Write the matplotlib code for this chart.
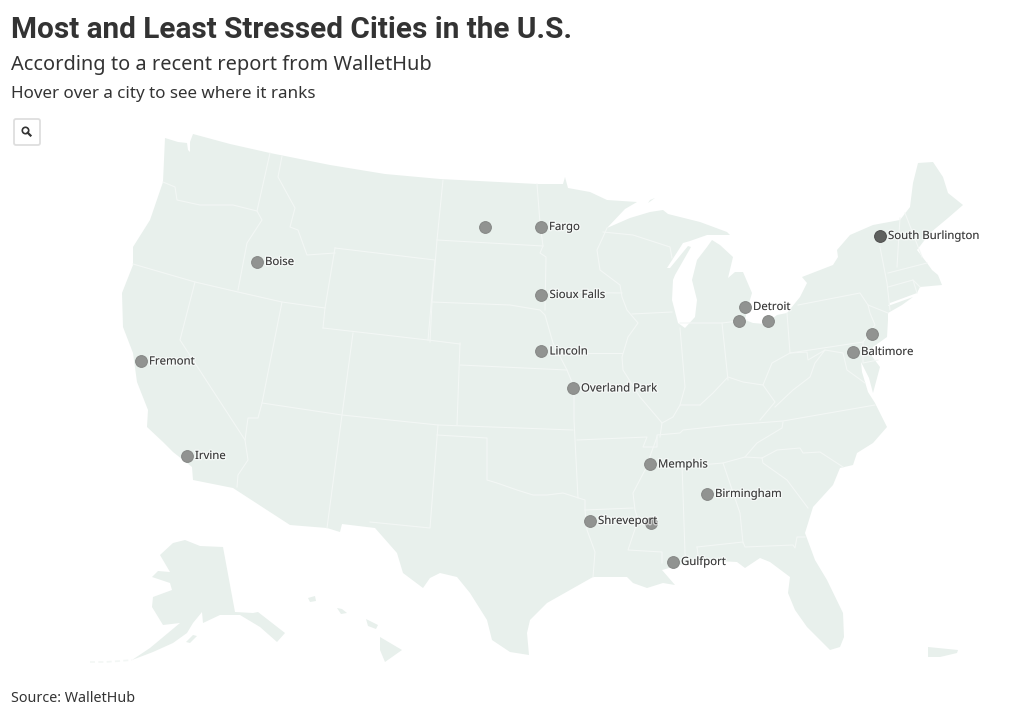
import matplotlib
matplotlib.use("Agg")
import matplotlib.pyplot as plt
from matplotlib.patches import FancyBboxPatch, Circle
import matplotlib.patheffects as pe

FAMILY = ["Noto Sans", "DejaVu Sans"]
plt.rcParams["font.family"] = FAMILY

TITLE = "Most and Least Stressed Cities in the U.S."
SUBTITLE = "According to a recent report from WalletHub"
NOTE = "Hover over a city to see where it ranks"
SOURCE = "Source: WalletHub"

# Cities in map coordinates
city_names = ["", "Fargo", "Sioux Falls", "Lincoln", "Overland Park", "Boise", "Fremont",
              "Irvine", "South Burlington", "Detroit", "", "", "", "Baltimore",
              "Memphis", "Birmingham", "", "Shreveport", "Gulfport"]
city_x = [484.7, 540.7, 541.2, 541.2, 572.7, 256.7, 140.7, 186.7, 879.7, 744.7, 738.7, 767.7, 871.7, 852.7, 649.7, 706.7, 651.2, 589.7, 672.7]
city_y = [226.5, 226.5, 294.5, 351, 388, 261.5, 361, 455.5, 235.5, 306.5, 321, 320.5, 333.5, 351.5, 464, 493.5, 523, 520.5, 561.5]
city_shade = [0.5] * 8 + [0.95] + [0.5] * 10

# Land outlines
lower48 = [(165,138),(178,142),(187,143),(188,150),(190,152),(190,142),(193,134),(230,144),(270,153),(330,165),(385,174),(440,179),
 (537,184),(563,184),(565,177),(568,188),(590,192),(607,200),(637,202),(625,209),(607,228),(630,218),(650,212),(663,210),
 (668,214),(700,222),(727,232),(730,235),(707,235),(690,241),(683,243),(667,268),(670,268),(688,246),(691,247),(675,275),
 (673,280),(672,300),(678,323),(685,328),
 (695,317),(697,300),(692,280),(697,260),(707,247),(712,240),(720,245),(733,257),(728,278),(735,272),(743,272),(752,293),
 (747,310),(745,320),(753,323),(765,324),(777,315),(787,313),(800,297),(807,283),(802,277),(833,265),(838,257),(837,250),
 (850,235),(873,225),(900,220),(910,207),(913,183),(918,163),(933,162),(943,177),(948,193),(963,205),(948,218),(930,233),
 (917,250),(927,263),(932,270),(938,275),(942,285),(920,287),(917,293),(890,303),(888,306),(913,297),(902,305),(888,313),(888,320),(887,337),(873,347),(871,355),
 (880,367),(873,393),(869,378),(861,362),(862,372),(868,392),(875,403),(887,427),(873,443),(857,453),(853,465),(840,468),(833,485),
 (813,507),(805,533),(815,560),(827,580),(843,613),(844,637),(840,647),(830,650),(807,627),(795,610),(788,593),(790,577),
 (770,562),(760,558),(745,568),(737,562),(700,560),(680,565),(662,570),(675,585),(663,583),(647,588),(633,583),(627,577),
 (593,577),(570,590),(547,603),(530,620),(527,633),(529,655),(510,652),(492,640),(487,620),(470,593),(457,577),(440,573),
 (430,578),(423,588),(403,573),(397,553),(375,528),(342,524),(340,532),(327,528),(290,525),(233,488),(193,480),(192,467),
 (173,452),(163,442),(147,427),(148,410),(137,382),(133,353),(123,327),(122,293),(133,265),(133,247),(150,220),(163,182)]
alaska = [(185,540),(200,546),(223,547),(235,612),(253,613),(258,612),(285,633),(277,642),(260,627),(240,615),(220,615),
 (203,623),(202,612),(193,623),(187,633),(173,643),(153,652),(132,660),(150,648),(180,623),(163,625),(152,607),(153,597),
 (172,590),(170,583),(152,577),(158,571),(170,572),(160,555),(173,543)]
hawaii_big = [(380,637),(402,650),(385,662),(380,650)]
maui = [(366,619),(378,625),(376,629),(368,626)]
oahu = [(337,608),(342,609),(347,613),(341,614)]
kauai = [(308,598),(315,596),(316,601),(310,602)]
puerto_rico = [(928,647),(958,650),(957,653),(940,657),(928,657)]
kodiak = [(193,635),(197,636),(190,643),(186,642)]
isle = [(650,200),(655,198),(648,203)]
land = [lower48, alaska, hawaii_big, maui, oahu, kauai, puerto_rico, kodiak, isle]

# State borders
borders = [
 [(163,182),(175,187),(177,200),(200,205),(233,205),(257,211)],
 [(270,153),(257,211),(262,220),(247,243),(238,290)],
 [(282,156),(278,177),(295,208),(290,227),(298,230),(307,255),(335,253)],
 [(133,264),(195,282),(238,292),(282,302),(325,308)],
 [(335,248),(325,308),(323,328)],
 [(335,248),(435,260),(428,340)],
 [(323,328),(428,340),(460,344)],
 [(195,282),(180,340),(245,440),(248,460),(238,475),(237,487)],
 [(282,302),(262,403),(258,418),(248,418),(245,440)],
 [(353,333),(342,415),(327,528)],
 [(262,403),(342,415),(438,425),(573,430)],
 [(438,425),(430,528),(370,522)],
 [(437,435),(487,438),(487,480),(497,483),(517,490),(533,495),(547,495),(563,493),(585,500),(585,510),(587,530),(595,552),(593,577)],
 [(574,387),(574,420),(578,498)],
 [(577,440),(647,437),(643,447),(657,447),(657,435),(680,433),(683,430),(730,425),(783,421),(875,405)],
 [(585,510),(633,508)],
 [(657,437),(645,470),(633,493),(635,510),(638,520),(628,550),(662,552),(662,563)],
 [(645,466),(700,465),(723,463),(745,457),(762,458)],
 [(783,422),(782,428),(757,443),(745,457)],
 [(762,458),(777,450),(800,448),(803,453),(820,452),(843,467)],
 [(762,458),(763,463),(787,480),(808,508)],
 [(723,463),(740,513),(743,543)],
 [(682,464),(685,553),(687,565)],
 [(697,547),(743,542),(745,547),(793,545),(795,548),(797,537),(805,537)],
 [(697,547),(698,555)],
 [(760,420),(775,402),(763,385)],
 [(700,405),(713,393),(728,377),(743,382),(763,385),(772,363),(790,353)],
 [(662,423),(673,417),(680,405),(700,405)],
 [(722,323),(728,380)],
 [(680,328),(685,387),(680,405)],
 [(680,323),(722,323),(747,320)],
 [(787,313),(790,353),(863,342)],
 [(798,305),(860,293),(868,305),(888,313)],
 [(868,305),(870,313),(875,325),(863,342),(863,363),(878,360)],
 [(880,247),(887,283),(890,310)],
 [(900,218),(897,267)],
 [(905,213),(922,257)],
 [(888,273),(927,263)],
 [(888,287),(913,280),(920,287)],
 [(913,280),(917,293)],
 [(790,353),(807,352),(808,360),(825,350),(815,363),(810,377),(793,390),(775,407)],
 [(825,350),(843,353),(847,370),(865,383)],
 [(443,180),(437,240),(432,302),(430,342)],
 [(460,343),(457,425)],
 [(460,365),(567,370)],
 [(437,240),(543,246)],
 [(537,184),(540,223),(543,246),(540,253),(546,257),(545,310)],
 [(432,302),(510,305),(540,310),(545,315),(553,343),(567,370),(574,387)],
 [(545,292),(622,293)],
 [(607,228),(603,237),(597,250),(600,270),(620,285),(622,297),(627,310),(638,323),(628,337),(622,357),(623,370),(640,397),(657,417),(662,423),(660,437)],
 [(603,232),(633,235),(670,247),(672,258)],
 [(632,314),(672,312)],
 [(553,353),(622,353)],
]

LAND_COLOR = "#e8f0ec"
BORDER_COLOR = "#f3f7f5"
TEXT = "#333333"

fig = plt.figure(figsize=(10.2, 7.15), dpi=100, facecolor="white")
ax = fig.add_axes([0, 0, 1, 1])
ax.set_xlim(0, 1020)
ax.set_ylim(715, 0)
ax.axis("off")

for shape in land:
    xs, ys = zip(*shape)
    ax.fill(xs, ys, color=LAND_COLOR, lw=0, zorder=1)
for line in borders:
    xs, ys = zip(*line)
    ax.plot(xs, ys, color=BORDER_COLOR, lw=0.8, solid_joinstyle="round", zorder=2)

# Aleutians, very faint
ax.plot([90, 105, 120, 132], [662, 662, 661, 660], color="#f3f7f5", lw=1.2, ls=(0, (3, 2)), zorder=1)

for x, y, shade in zip(city_x, city_y, city_shade):
    color = "#5f615f" if shade > 0.7 else "#919391"
    ax.scatter([x], [y], s=72, color=color, edgecolors="#858785" if shade <= 0.7 else "#4d4d4d",
               linewidths=0.7, zorder=3)

for name, x, y in zip(city_names, city_x, city_y):
    if name:
        ax.text(x + 8.3, y + 1, name, fontsize=8.2, color="#3a3a3a", va="center", ha="left", zorder=4,
                path_effects=[pe.withStroke(linewidth=2, foreground=(1, 1, 1, 0.55))])

ax.text(11, 30, TITLE, fontsize=21.45, fontweight="bold", family=["Roboto", "DejaVu Sans"], color=TEXT, va="center", ha="left")
ax.text(11, 65, SUBTITLE, fontsize=14.38, color=TEXT, va="center", ha="left")
ax.text(11, 94, NOTE, fontsize=12.25, color=TEXT, va="center", ha="left")
ax.text(11, 698, SOURCE, fontsize=10.3, color=TEXT, va="center", ha="left")

# Zoom button
ax.add_patch(FancyBboxPatch((14, 119), 26, 26, boxstyle="round,pad=0,rounding_size=2",
                            facecolor="white", edgecolor="#dedede", lw=1.3, zorder=5))
ax.add_patch(Circle((25.5, 130.5), 3.2, facecolor="none", edgecolor="#333333", lw=1.2, zorder=6))
ax.plot([27.8, 30.5], [132.8, 135.5], color="#333333", lw=1.6, zorder=6)

fig.savefig("out.png", dpi=100)
